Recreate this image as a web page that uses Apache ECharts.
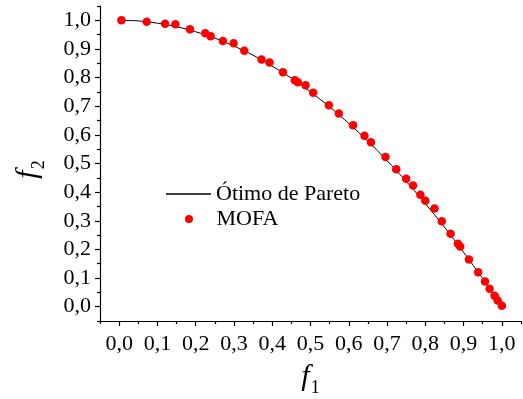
<!DOCTYPE html>
<html>
<head>
<meta charset="utf-8">
<style>
  html, body { margin: 0; padding: 0; background: #fff; }
  #chart { width: 523px; height: 399px; }
</style>
<script src="https://cdn.jsdelivr.net/npm/echarts@6/dist/echarts.min.js"></script>
</head>
<body>
<div id="chart"></div>
<script>
// Optimal Pareto front (f1, f2)
const frontF1 = [0.00, 0.05, 0.10, 0.15, 0.20, 0.25, 0.30, 0.35, 0.40, 0.45, 0.50,
                 0.55, 0.60, 0.65, 0.70, 0.75, 0.80, 0.85, 0.90, 0.95, 1.00];
const frontF2 = [1.000, 0.998, 0.990, 0.978, 0.960, 0.938, 0.910, 0.878, 0.840, 0.798, 0.750,
                 0.698, 0.640, 0.578, 0.510, 0.438, 0.360, 0.278, 0.190, 0.098, 0.000];

// MOFA solutions (f1, f2)
const mofaF1 = [0.006, 0.072, 0.120, 0.147, 0.185, 0.225, 0.239, 0.271, 0.299, 0.327,
                0.372, 0.393, 0.428, 0.459, 0.467, 0.487, 0.507, 0.548, 0.574, 0.611,
                0.641, 0.658, 0.696, 0.724, 0.750, 0.768, 0.787, 0.800, 0.824, 0.843,
                0.866, 0.885, 0.891, 0.914, 0.938, 0.956, 0.968, 0.981, 0.989, 1.000];
const mofaF2 = [1.000, 0.995, 0.988, 0.986, 0.969, 0.955, 0.944, 0.928, 0.920, 0.894,
                0.863, 0.853, 0.819, 0.791, 0.784, 0.773, 0.747, 0.703, 0.675, 0.634,
                0.597, 0.574, 0.523, 0.480, 0.447, 0.423, 0.391, 0.370, 0.343, 0.298,
                0.255, 0.220, 0.210, 0.165, 0.120, 0.088, 0.063, 0.038, 0.022, 0.003];

// Axis range and labelled ticks
const axisMin = -0.05;
const axisMax = 1.05;
const tickLabels = ['0,0', '0,1', '0,2', '0,3', '0,4', '0,5', '0,6', '0,7', '0,8', '0,9', '1,0'];

const seriesNames = ['Ótimo de Pareto', 'MOFA'];

const FONT = '"Liberation Serif", "Times New Roman", serif';

const frontData = frontF1.map((x, i) => [x, frontF2[i]]);
const mofaData = mofaF1.map((x, i) => [x, mofaF2[i]]);

function labelFor(value) {
  const k = Math.round(value * 100);
  if (k % 10 !== 0) return '';
  const idx = k / 10;
  return tickLabels[idx] !== undefined ? tickLabels[idx] : '';
}

const axisColor = '#000';

// Axis carrying the line, short ticks at the half steps and long ticks at the labelled steps
function tickAxis(extra) {
  return Object.assign({
    type: 'value',
    min: axisMin,
    max: axisMax,
    interval: 0.1,
    splitLine: { show: false },
    axisLine: { show: true, onZero: false, lineStyle: { color: axisColor, width: 1.2 } },
    axisTick: { show: true, inside: false, length: 3, lineStyle: { color: axisColor, width: 1.2 } },
    minorTick: { show: true, splitNumber: 2, length: 5, lineStyle: { color: axisColor, width: 1.2 } },
    axisLabel: { show: false }
  }, extra);
}

// Axis carrying only the labels
function labelAxis(extra, margin) {
  return Object.assign({
    type: 'value',
    min: axisMin,
    max: axisMax,
    interval: 0.05,
    splitLine: { show: false },
    axisLine: { show: false, onZero: false },
    axisTick: { show: false },
    axisLabel: {
      show: true,
      margin: margin,
      color: '#000',
      fontFamily: FONT,
      fontSize: 22,
      formatter: labelFor
    }
  }, extra);
}

const nameRich = {
  f: { fontFamily: FONT, fontStyle: 'italic', fontSize: 30, color: '#000' },
  s: { fontFamily: FONT, fontSize: 18, color: '#000', padding: [22, 0, 0, 1] }
};

const legendText = { fontFamily: FONT, fontSize: 22, color: '#000' };

const chart = echarts.init(document.getElementById('chart'), null, { renderer: 'canvas' });

chart.setOption({
  animation: false,
  backgroundColor: '#fff',
  grid: { left: 100, right: 2, top: 6, bottom: 78, containLabel: false, outerBoundsMode: 'none' },
  xAxis: [
    tickAxis({
      position: 'bottom',
      name: '{f|f}{s|1}',
      nameLocation: 'middle',
      nameGap: 36,
      nameTextStyle: { rich: nameRich }
    }),
    labelAxis({ position: 'bottom' }, 12)
  ],
  yAxis: [
    tickAxis({
      position: 'left',
      name: '{f|f}{s|2}',
      nameLocation: 'middle',
      nameGap: 52,
      nameTextStyle: { rich: nameRich, padding: [0, 12, 0, 0] }
    }),
    labelAxis({ position: 'left' }, 9)
  ],
  legend: [
    {
      data: [{ name: seriesNames[0], icon: 'rect' }],
      orient: 'vertical',
      left: 166,
      top: 183,
      padding: 0,
      itemWidth: 45,
      itemHeight: 1.3,
      itemGap: 0,
      textStyle: legendText
    },
    {
      data: [{ name: seriesNames[1], icon: 'circle' }],
      orient: 'vertical',
      left: 185,
      top: 208,
      padding: 0,
      itemWidth: 45,
      itemHeight: 8,
      itemGap: 0,
      textStyle: legendText
    }
  ],
  series: [
    {
      name: seriesNames[0],
      type: 'line',
      xAxisIndex: 0,
      yAxisIndex: 0,
      data: frontData,
      smooth: 0.3,
      symbol: 'none',
      showSymbol: false,
      lineStyle: { color: '#000', width: 1 },
      itemStyle: { color: '#000' },
      z: 2
    },
    {
      name: seriesNames[1],
      type: 'scatter',
      xAxisIndex: 0,
      yAxisIndex: 0,
      data: mofaData,
      symbol: 'circle',
      symbolSize: 8.5,
      itemStyle: { color: '#ff0000', opacity: 1 },
      z: 3
    }
  ]
});
</script>
</body>
</html>
